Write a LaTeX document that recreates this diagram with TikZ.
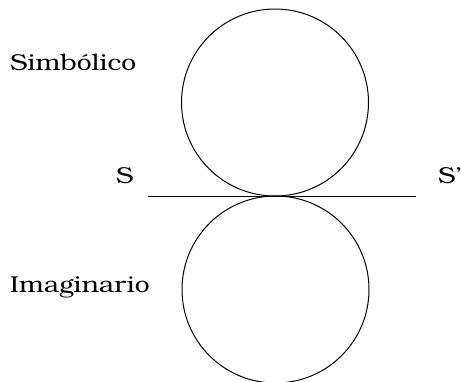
\documentclass[tikz,border=0pt]{standalone}
\usepackage{fontspec}
\setmainfont[FakeStretch=1.15]{texgyrebonum-regular.otf}
\tikzset{
  ring/.style={draw, circle, line width=1pt, minimum size=187pt, inner sep=0pt},
  lbl/.style={anchor=base west, inner sep=0pt, font=\fontsize{23}{27}\selectfont},
}
\begin{document}
\begin{tikzpicture}[x=1pt,y=-1pt]
\useasboundingbox (0,0) rectangle (461,381);
\node[ring] (top) at (275,102.5) {};
\node[ring] (bot) at (275.5,289.5) {};
\coordinate (l) at (148,196);
\coordinate (r) at (416,196);
\draw[line width=1pt] (l) -- (r);
\node[lbl] (sim) at (10,70) {Simbólico};
\node[lbl] (ima) at (10,292) {Imaginario};
\node[lbl] (s) at (116,183) {S};
\node[lbl] (sp) at (438,183) {S'};
\end{tikzpicture}
\end{document}
